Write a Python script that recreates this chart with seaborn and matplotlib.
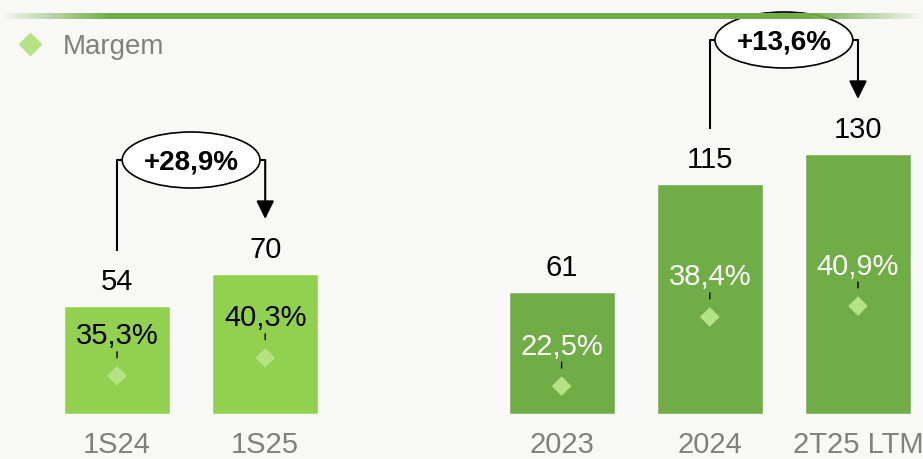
"""
Grafico de barras: receita por periodo com margem e crescimento.
"""
import numpy as np
import pandas as pd
import matplotlib.pyplot as plt
import seaborn as sns
from matplotlib.patches import Ellipse
from matplotlib.lines import Line2D
from matplotlib.colors import to_rgb

# dados
categorias = ["1S24", "1S25", "2023", "2024", "2T25 LTM"]
posicoes = [0, 1, 3, 4, 5]
valores = [54, 70, 61, 115, 130]
margens = [35.3, 40.3, 22.5, 38.4, 40.9]
rotulos_margem = ["35,3%", "40,3%", "22,5%", "38,4%", "40,9%"]
grupos = ["semestre", "semestre", "ano", "ano", "ano"]
crescimentos = ["+28,9%", "+13,6%"]
pares = [(0, 1), (3, 4)]

VERDE_CLARO = "#92D050"
VERDE_ESCURO = "#70AD47"
VERDE_DIAMANTE = "#B5E384"
CINZA = "#808080"
FUNDO = "#F8F8F6"

sns.set_theme(style="white")
plt.rcParams["font.family"] = ["Liberation Sans", "DejaVu Sans"]

df = pd.DataFrame({
    "pos": posicoes,
    "valor": valores,
    "margem": margens,
    "grupo": grupos,
})

fig = plt.figure(figsize=(9.23, 4.59), dpi=100, facecolor=FUNDO)
ax = fig.add_axes([0, 45 / 459, 1, 414 / 459])
ax.patch.set_alpha(0)

sns.barplot(data=df, x="pos", y="valor", hue="grupo",
            palette={"semestre": VERDE_CLARO, "ano": VERDE_ESCURO},
            native_scale=True, width=0.716, dodge=False, saturation=1,
            legend=False, ax=ax, zorder=2)

# margens em eixos secundarios (uma escala por grupo, como no original)
limites_margem = {"semestre": (24.7, 139.7), "ano": (16.1, 111.2)}
cor_rotulo = {"semestre": "black", "ano": "white"}
for grupo, lim in limites_margem.items():
    axm = ax.twinx()
    sub = df[df["grupo"] == grupo]
    sns.scatterplot(data=sub, x="pos", y="margem", marker="D", s=100,
                    color=VERDE_DIAMANTE, edgecolor="none", legend=False,
                    ax=axm, zorder=4)
    axm.set_ylim(lim)
    axm.axis("off")
    for i in sub.index:
        x, m = posicoes[i], margens[i]
        axm.annotate("", xy=(x, m), xytext=(0, 17.3), textcoords="offset points",
                     arrowprops=dict(arrowstyle="-", color="black", lw=1,
                                     shrinkA=0, shrinkB=13))
        axm.annotate(rotulos_margem[i], xy=(x, m), xytext=(0, 22.7),
                     textcoords="offset points", ha="center", va="baseline",
                     fontsize=21, color=cor_rotulo[grupo])

# valores acima das barras e categorias abaixo
for x, v, cat in zip(posicoes, valores, categorias):
    ax.annotate(str(v), xy=(x, v), xytext=(0, 11.2), textcoords="offset points",
                ha="center", va="baseline", fontsize=21, color="black")
    ax.annotate(cat, xy=(x, 0), xytext=(0, -28.4), textcoords="offset points",
                ha="center", va="baseline", fontsize=21, color=CINZA,
                annotation_clip=False)

# colchetes de crescimento
largura_el, altura_el = 0.93, 28
for (a, b), txt in zip(pares, crescimentos):
    xa, xb = posicoes[a], posicoes[b]
    inicio = valores[a] + 27.5
    ponta = valores[b] + 27.5
    ey = max(valores[a], valores[b]) + 57
    meio = (xa + xb) / 2
    ax.plot([xa, xa, meio - largura_el / 2], [inicio, ey, ey],
            color="black", lw=1.5, zorder=5, solid_capstyle="butt")
    ax.plot([meio + largura_el / 2, xb], [ey, ey], color="black", lw=1.5, zorder=5)
    ax.annotate("", xy=(xb, ponta), xytext=(xb, ey),
                arrowprops=dict(arrowstyle="-|>,head_length=0.55,head_width=0.27",
                                mutation_scale=20, color="black", lw=1.5,
                                shrinkA=0, shrinkB=0), zorder=5)
    ax.add_patch(Ellipse((meio, ey), largura_el, altura_el, facecolor="white",
                         edgecolor="black", lw=1.2, zorder=6, clip_on=False))
    ax.annotate(txt, xy=(meio, ey), xytext=(0, -7.2), textcoords="offset points",
                ha="center", va="baseline", fontsize=20, fontweight="bold",
                color="black", zorder=7, annotation_clip=False)

ax.set_xlim(-117 / 148.2, (923 - 117) / 148.2)
ax.set_ylim(0, 207)
ax.axis("off")

# legenda
leg = fig.legend(handles=[Line2D([], [], marker="D", ls="none", color=VERDE_DIAMANTE,
                                 markersize=11, label="Margem")],
                 loc="center left", bbox_to_anchor=(16 / 923, 1 - 47 / 459),
                 frameon=False, fontsize=20, handlelength=1, handletextpad=0.7,
                 borderpad=0, borderaxespad=0)
for t in leg.get_texts():
    t.set_color(CINZA)

# linha verde do topo com degrade nas pontas
ax_top = fig.add_axes([0, 0, 1, 1], zorder=10)
ax_top.set_xlim(0, 923)
ax_top.set_ylim(459, 0)
ax_top.axis("off")
xs = np.arange(923)
alpha = np.clip(np.minimum(xs / 110, (923 - xs) / 115), 0, 1)
rgba = np.zeros((1, 923, 4))
rgba[..., :3] = to_rgb(VERDE_ESCURO)
rgba[0, :, 3] = alpha
ax_top.imshow(rgba, extent=(0, 923, 19, 13), aspect="auto", interpolation="bilinear")

fig.savefig("out.png", dpi=100, facecolor=FUNDO)
